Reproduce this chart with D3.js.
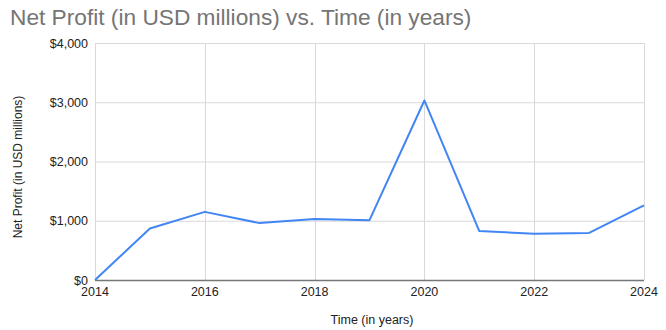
<!DOCTYPE html>
<html>
<head>
<meta charset="utf-8">
<script src="https://cdn.jsdelivr.net/npm/d3@7"></script>
<style>
  html, body { margin: 0; padding: 0; background: #fff; }
  svg { display: block; font-family: "Liberation Sans", Arial, sans-serif; }
</style>
</head>
<body>
<svg id="chart" width="666" height="330"></svg>
<script>
// Net profit by year, USD millions
const years = [2014, 2015, 2016, 2017, 2018, 2019, 2020, 2021, 2022, 2023, 2024];
const netProfit = [0, 870, 1150, 960, 1030, 1010, 3030, 825, 780, 795, 1260];
const yTicks = [0, 1000, 2000, 3000, 4000];
const xTicks = [2014, 2016, 2018, 2020, 2022, 2024];

const svg = d3.select("#chart");
const margin = { left: 95, right: 22, top: 43, bottom: 50 };
const width = 666, height = 330;

const x = d3.scaleLinear().domain([2014, 2024]).range([margin.left, width - margin.right]);
const y = d3.scaleLinear().domain([0, 4000]).range([height - margin.bottom, margin.top]);

// Title
svg.append("text")
  .attr("x", 10).attr("y", 25)
  .attr("font-size", 22.7)
  .attr("fill", "#757575")
  .text("Net Profit (in USD millions) vs. Time (in years)");

// Horizontal gridlines
svg.append("g").selectAll("line").data(yTicks.filter(d => d > 0)).join("line")
  .attr("x1", x(2014)).attr("x2", x(2024))
  .attr("y1", d => y(d) + 0.5).attr("y2", d => y(d) + 0.5)
  .attr("stroke", "#d9d9d9").attr("stroke-width", 1);

// Vertical gridlines
svg.append("g").selectAll("line").data(xTicks).join("line")
  .attr("x1", d => Math.round(x(d)) + 0.5).attr("x2", d => Math.round(x(d)) + 0.5)
  .attr("y1", y(4000)).attr("y2", y(0))
  .attr("stroke", "#d9d9d9").attr("stroke-width", 1);

// Baseline
svg.append("line")
  .attr("x1", x(2014)).attr("x2", x(2024))
  .attr("y1", y(0) + 0.5).attr("y2", y(0) + 0.5)
  .attr("stroke", "#777").attr("stroke-width", 1.5);

// Y axis tick labels
const fmt = d => "$" + d3.format(",")(d);
svg.append("g").selectAll("text").data(yTicks).join("text")
  .attr("x", margin.left - 7)
  .attr("y", d => y(d) + 4.5)
  .attr("text-anchor", "end")
  .attr("font-size", 12.5)
  .attr("fill", "#222")
  .text(fmt);

// X axis tick labels
svg.append("g").selectAll("text").data(xTicks).join("text")
  .attr("x", d => x(d))
  .attr("y", y(0) + 16)
  .attr("text-anchor", "middle")
  .attr("font-size", 12.5)
  .attr("fill", "#222")
  .text(d => d);

// Axis titles
svg.append("text")
  .attr("x", 372).attr("y", 324)
  .attr("text-anchor", "middle")
  .attr("font-size", 12.5)
  .attr("fill", "#222")
  .text("Time (in years)");

svg.append("text")
  .attr("transform", "translate(22,167) rotate(-90)")
  .attr("text-anchor", "middle")
  .attr("font-size", 12)
  .attr("fill", "#222")
  .text("Net Profit (in USD millions)");

// Profit line
const line = d3.line().x((d, i) => x(years[i])).y(d => y(d));
svg.append("path")
  .datum(netProfit)
  .attr("fill", "none")
  .attr("stroke", "#4285f4")
  .attr("stroke-width", 2)
  .attr("stroke-linejoin", "round")
  .attr("d", line);
</script>
</body>
</html>
